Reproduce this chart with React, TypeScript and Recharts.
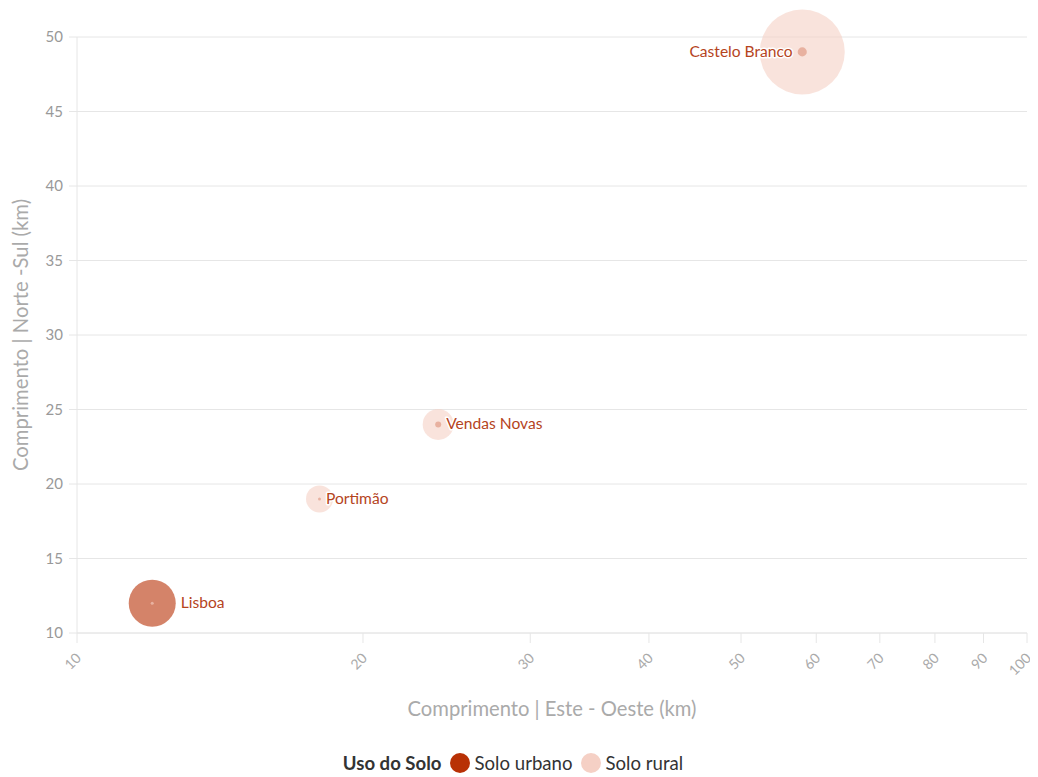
import React from "react";
import {
  ScatterChart,
  Scatter,
  XAxis,
  YAxis,
  ZAxis,
  CartesianGrid,
  Label,
} from "recharts";

// concelhos e dimensões
const cidades = ["Lisboa", "Portimão", "Vendas Novas", "Castelo Branco"];
const esteOeste = [12, 18, 24, 58];
const norteSul = [12, 19, 24, 49];
const areaUrbana = [85, 0.35, 1.4, 3.2];
const areaRural = [0.35, 28, 37, 278];

const xTicks = [10, 20, 30, 40, 50, 60, 70, 80, 90, 100];
const yTicks = [10, 15, 20, 25, 30, 35, 40, 45, 50];
const rotulosAEsquerda = ["Castelo Branco"];

const COR_URBANO = "#b83105";
const COR_RURAL = "#f5d0c5";
const FONT = "Lato, 'Noto Sans', sans-serif";

const urbano = cidades.map((nome, i) => ({
  nome,
  x: esteOeste[i],
  y: norteSul[i],
  z: areaUrbana[i],
}));
const rural = cidades.map((nome, i) => ({
  nome,
  x: esteOeste[i],
  y: norteSul[i],
  z: areaRural[i],
}));

const raio = (p: any) =>
  p.size != null ? Math.sqrt(Math.max(p.size, 0) / Math.PI) : (p.width || 0) / 2;

const bolha = (cor: string) => (p: any) => (
  <circle cx={p.cx} cy={p.cy} r={raio(p)} fill={cor} fillOpacity={0.6} />
);

const rotulo = (p: any) => {
  const r = raio(p);
  const esq = rotulosAEsquerda.includes(p.payload.nome);
  return (
    <text
      x={esq ? p.cx - r - 5 : p.cx + r + 5}
      y={p.cy}
      dy={5}
      textAnchor={esq ? "end" : "start"}
      fontFamily={FONT}
      fontSize={15.6}
      fill="#b5441d"
      stroke="#fff"
      strokeWidth={3}
      strokeLinejoin="round"
      style={{ paintOrder: "stroke" }}
    >
      {p.payload.nome}
    </text>
  );
};

const XTick = (p: any) => (
  <text
    x={p.x + 5}
    y={p.y + 14}
    textAnchor="end"
    fontFamily={FONT}
    fontSize={14}
    fill="#aaa"
    transform={`rotate(-45 ${p.x + 5} ${p.y + 14})`}
  >
    {p.payload.value}
  </text>
);

const YTitulo = (p: any) => {
  const vb = p.viewBox;
  const cy = vb.y + vb.height / 2;
  return (
    <text
      x={12}
      y={cy}
      textAnchor="middle"
      dominantBaseline="central"
      fontFamily={FONT}
      fontSize={20.3}
      fill="#aaa"
      transform={`rotate(-90 12 ${cy})`}
    >
      Comprimento | Norte -Sul (km)
    </text>
  );
};

const marcador = (cor: string) => (
  <span
    style={{
      width: 20,
      height: 20,
      borderRadius: 10,
      background: cor,
      marginRight: 5,
    }}
  />
);

export default function App() {
  return (
    <div style={{ position: "relative", width: 1030, height: 769 }}>
      <ScatterChart
        width={1030}
        height={730}
        margin={{ top: 29, right: 11, left: 0, bottom: 0 }}
      >
        <CartesianGrid vertical={false} stroke="#e6e6e6" />
        <XAxis
          type="number"
          dataKey="x"
          scale="log"
          domain={[10, 100]}
          ticks={xTicks}
          interval={0}
          height={105}
          stroke="#e6e6e6"
          tickSize={10}
          tick={<XTick />}
          allowDataOverflow
        >
          <Label
            value="Comprimento | Este - Oeste (km)"
            position="insideBottom"
            offset={22}
            style={{ fontFamily: FONT, fontSize: 20.2, fill: "#aaa" }}
          />
        </XAxis>
        <YAxis
          type="number"
          dataKey="y"
          domain={[10, 50]}
          ticks={yTicks}
          interval={0}
          width={69}
          stroke="#e6e6e6"
          tickSize={8}
          tickMargin={6}
          tick={{ fontFamily: FONT, fontSize: 15, fill: "#999" }}
        >
          <Label content={<YTitulo />} />
        </YAxis>
        <ZAxis type="number" dataKey="z" domain={[0, 278]} range={[0, 5675]} />
        <Scatter
          name="Solo urbano"
          data={urbano}
          shape={bolha(COR_URBANO)}
          isAnimationActive={false}
        />
        <Scatter
          name="Solo rural"
          data={rural}
          shape={bolha(COR_RURAL)}
          isAnimationActive={false}
        />
        <Scatter
          name="rotulos"
          data={urbano}
          shape={rotulo}
          legendType="none"
          isAnimationActive={false}
        />
      </ScatterChart>
      <div
        style={{
          position: "absolute",
          top: 744,
          left: 0,
          width: 1010,
          display: "flex",
          justifyContent: "center",
          alignItems: "center",
          fontFamily: FONT,
          fontSize: 18.6,
          color: "#333",
        }}
      >
        <span style={{ fontWeight: "bold", marginRight: 8 }}>Uso do Solo</span>
        {marcador(COR_URBANO)}
        <span style={{ marginRight: 8 }}>Solo urbano</span>
        {marcador(COR_RURAL)}
        <span>Solo rural</span>
      </div>
    </div>
  );
}
